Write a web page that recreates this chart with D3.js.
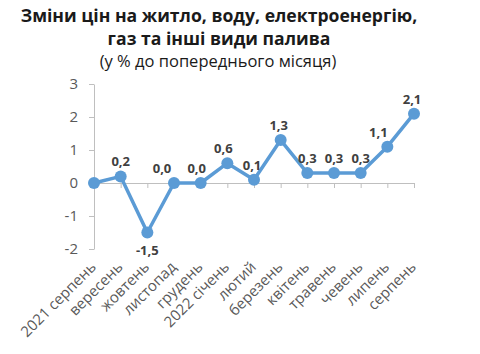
<!DOCTYPE html>
<html>
<head>
<meta charset="utf-8">
<script src="https://cdn.jsdelivr.net/npm/d3@7"></script>
<style>
  body { margin: 0; background: #fff; }
  svg { display: block; }
  .title { font-family: "Open Sans", sans-serif; font-weight: bold; fill: #1a1a1a; }
  .subtitle { font-family: "Open Sans", sans-serif; fill: #1a1a1a; }
  .tickLbl { font-family: "Open Sans", sans-serif; fill: #595959; }
  .dataLbl { font-family: "Open Sans", sans-serif; font-weight: bold; fill: #404040; font-size: 13px; }
</style>
</head>
<body>
<div id="chart"></div>
<script>
// months on the x axis (spelling kept as in the source)
var months = ["2021 серпень", "вересень", "жовтень", "листопад", "грудень", "2022 січень",
  "лютий", "березень", "квітень", "травень", "чевень", "липень", "серпень"];

// price change, % to previous month
var values = [0.0, 0.2, -1.5, 0.0, 0.0, 0.6, 0.1, 1.3, 0.3, 0.3, 0.3, 1.1, 2.1];

var yTicks = [-2, -1, 0, 1, 2, 3];

var width = 480;
var height = 354;

// plot box
var plotLeft = 94, plotRight = 414, plotTop = 84, plotBottom = 249;

// small horizontal shifts of data labels (as Excel placed them)
var labelNudge = [0, 0, 0, -12, -4, -4, -2, -2, 0, 0, 0, -9, -2];

var svg = d3.select("#chart")
  .append("svg")
  .attr("width", width)
  .attr("height", height);

// titles
svg.append("text").attr("class", "title")
  .attr("x", 219).attr("y", 22)
  .attr("text-anchor", "middle").attr("font-size", 17.6)
  .text("Зміни цін на житло, воду, електроенергію,");
svg.append("text").attr("class", "title")
  .attr("x", 219).attr("y", 45)
  .attr("text-anchor", "middle").attr("font-size", 17.6)
  .text("газ та інші види палива");
svg.append("text").attr("class", "subtitle")
  .attr("x", 218).attr("y", 67)
  .attr("text-anchor", "middle").attr("font-size", 16.5)
  .text("(у % до попереднього місяця)");

var xScale = d3.scalePoint().domain(months).range([plotLeft, plotRight]);
var yScale = d3.scaleLinear().domain([-2, 3]).range([plotBottom, plotTop]);

// y axis
var yAxis = d3.axisLeft(yScale).tickValues(yTicks).tickSize(5).tickSizeOuter(0).tickPadding(11);
var yG = svg.append("g")
  .attr("transform", "translate(" + plotLeft + ",0)")
  .call(yAxis);
yG.select(".domain").attr("stroke", "#bfbfbf");
yG.selectAll(".tick line").attr("stroke", "#bfbfbf");
yG.selectAll(".tick text")
  .attr("class", "tickLbl")
  .attr("font-size", 15)
  .text(function(d) { return d < 0 ? "-" + Math.abs(d) : d; });

// x axis line at zero, ticks only
var xAxis = d3.axisBottom(xScale).tickSize(5).tickSizeOuter(0).tickFormat("");
var xG = svg.append("g")
  .attr("transform", "translate(0," + yScale(0) + ")")
  .call(xAxis);
xG.select(".domain").attr("stroke", "#bfbfbf");
xG.selectAll(".tick line").attr("stroke", "#bfbfbf");

// category labels at the bottom, rotated
svg.append("g")
  .selectAll("text")
  .data(months)
  .enter()
  .append("text")
  .attr("class", "tickLbl")
  .attr("font-size", 15)
  .attr("text-anchor", "end")
  .attr("transform", function(d) {
    return "translate(" + (xScale(d) + 3) + "," + (plotBottom + 19) + ") rotate(-45)";
  })
  .text(function(d) { return d; });

// line
var line = d3.line()
  .x(function(d, i) { return xScale(months[i]); })
  .y(function(d) { return yScale(d); });

svg.append("path")
  .datum(values)
  .attr("fill", "none")
  .attr("stroke", "#5b9bd5")
  .attr("stroke-width", 3.5)
  .attr("stroke-linejoin", "round")
  .attr("d", line);

svg.append("g")
  .selectAll("circle")
  .data(values)
  .enter()
  .append("circle")
  .attr("cx", function(d, i) { return xScale(months[i]); })
  .attr("cy", function(d) { return yScale(d); })
  .attr("r", 6)
  .attr("fill", "#5b9bd5");

// data labels (first point has none in the source)
svg.append("g")
  .selectAll("text")
  .data(values.slice(1))
  .enter()
  .append("text")
  .attr("class", "dataLbl")
  .attr("text-anchor", "middle")
  .attr("x", function(d, i) { return xScale(months[i + 1]) + labelNudge[i + 1]; })
  .attr("y", function(d) { return d < 0 ? yScale(d) + 22 : yScale(d) - 10; })
  .text(function(d) { return d3.format(".1f")(d).replace(".", ",").replace("−", "-"); });
</script>
</body>
</html>
